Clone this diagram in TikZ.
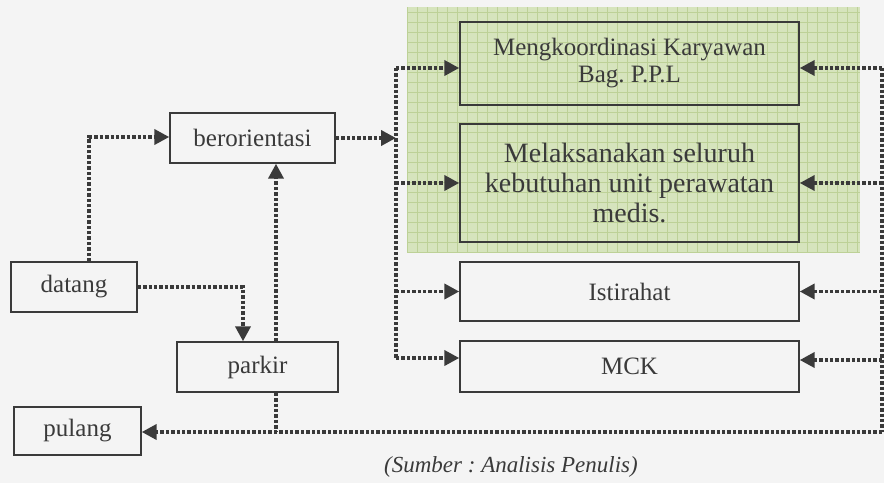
\documentclass[tikz,border=0pt]{standalone}
\usepackage{fontspec}
\setmainfont{Liberation Serif}
\usetikzlibrary{arrows.meta}
\frenchspacing

\definecolor{ink}{HTML}{3A3A3A}
\definecolor{paper}{HTML}{F4F4F4}
\definecolor{zonefill}{HTML}{D6E4BD}
\definecolor{zonegrid}{HTML}{BDD197}

\tikzset{
  stepbox/.style={draw=ink, line width=1.4pt, inner sep=0pt, text=ink,
    align=center, font=\fontsize{25}{27}\selectfont},
  flow/.style={draw=ink, line width=3.8pt, dash pattern=on 3.4pt off 2pt},
  tip/.style={-{Triangle[length=15pt,width=15pt]}},
}

\begin{document}
\begin{tikzpicture}[x=1pt,y=-1pt]
  % canvas
  \fill[paper] (0,0) rectangle (884,483);
  \useasboundingbox (0,0) rectangle (884,483);

  % shaded work zone with grid
  \fill[zonefill] (407,7) rectangle (860,253);
  \foreach \gx in {407,417,...,857}
    \draw[zonegrid, line width=0.9pt] (\gx,7) -- (\gx,253);
  \foreach \gy in {12,22,...,252}
    \draw[zonegrid, line width=0.9pt] (407,\gy) -- (860,\gy);

  % activity boxes
  \node[stepbox, minimum width=126, minimum height=50] (datang) at (74,287) {datang};
  \node[stepbox, minimum width=165, minimum height=50] (ber) at (252.5,138) {berorientasi};
  \node[stepbox, minimum width=161, minimum height=50] (parkir) at (257.5,367) {parkir};
  \node[stepbox, minimum width=127, minimum height=48] (pulang) at (77.5,431) {pulang};
  \node[stepbox, minimum width=339, minimum height=83] (mk) at (629.5,63.5)
    {Mengkoordinasi Karyawan\\Bag. P.P.L};
  \node[stepbox, minimum width=339, minimum height=118,
    font=\fontsize{28}{30}\selectfont] (ml) at (629.5,183)
    {Melaksanakan seluruh\\kebutuhan unit perawatan\\medis.};
  \node[stepbox, minimum width=339, minimum height=59] (ist) at (629.5,291.5) {Istirahat};
  \node[stepbox, minimum width=339, minimum height=51] (mck) at (629.5,366.5) {MCK};

  \node[text=ink, font=\fontsize{23}{25}\selectfont\itshape] (src) at (511,467)
    {(Sumber : Analisis Penulis)};

  % bend and bus points
  \coordinate (dt) at (89,137);
  \coordinate (dp) at (243,287);
  \coordinate (pk) at (276,432);
  \coordinate (lt) at (396,68);
  \coordinate (lb) at (396,358);
  \coordinate (rt) at (882,68);
  \coordinate (rm) at (882,360);
  \coordinate (rb) at (882,432);

  % arrival and orientation
  \draw[flow, tip] (datang.north -| dt) -- (dt) -- (dt -| ber.west);
  \draw[flow, tip] (datang.east) -- (dp) -- (dp |- parkir.north);
  \draw[flow, tip] (parkir.north -| pk) -- (ber.south -| pk);
  \draw[flow, tip] (ber.east) -- (ber.east -| lt);

  % left distribution bus
  \draw[flow] (lt) -- (lb);
  \draw[flow, tip] (lt) -- (lt -| mk.west);
  \draw[flow, tip] (ml.west -| lt) -- (ml.west);
  \draw[flow, tip] (ist.west -| lt) -- (ist.west);
  \draw[flow, tip] (lb) -- (lb -| mck.west);

  % right return bus
  \draw[flow] (rt) -- (rb);
  \draw[flow, tip] (rt) -- (rt -| mk.east);
  \draw[flow, tip] (ml.east -| rt) -- (ml.east);
  \draw[flow, tip] (ist.east -| rt) -- (ist.east);
  \draw[flow, tip] (rm) -- (rm -| mck.east);

  % going home
  \draw[flow] (parkir.south -| pk) -- (pk);
  \draw[flow, tip] (rb) -- (rb -| pulang.east);
\end{tikzpicture}
\end{document}
